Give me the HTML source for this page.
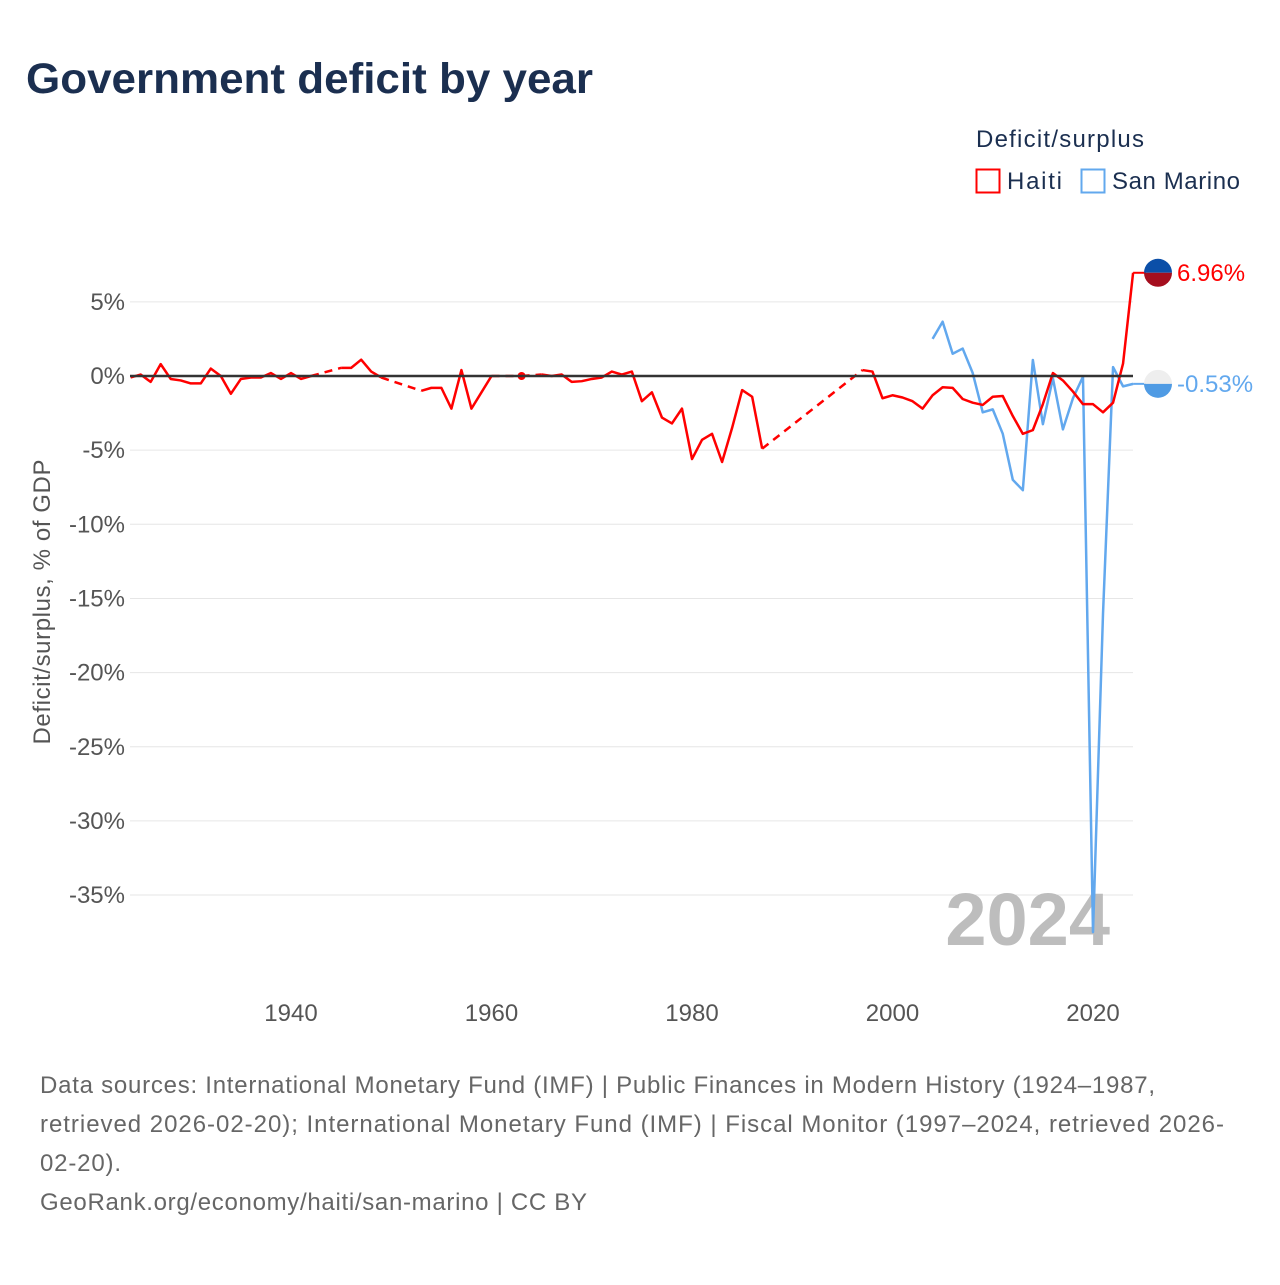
<!DOCTYPE html>
<html><head><meta charset="utf-8"><style>
body{margin:0;background:#fff;font-family:"Liberation Sans",sans-serif}
</style></head><body>
<svg id="chart" width="1280" height="1280" xmlns="http://www.w3.org/2000/svg">
<text x="26" y="93" font-size="43" font-weight="bold" fill="#1b2f50" textLength="567" lengthAdjust="spacingAndGlyphs">Government deficit by year</text>
<g>
<text x="976" y="147" font-size="24" fill="#1b2f50" textLength="168">Deficit/surplus</text>
<rect x="976.5" y="169.5" width="23" height="23" fill="none" stroke="#ff0000" stroke-width="2"/>
<text x="1007" y="189" font-size="24" fill="#1b2f50" textLength="55">Haiti</text>
<rect x="1081.5" y="169.5" width="23" height="23" fill="none" stroke="#62a8ee" stroke-width="2"/>
<text x="1112" y="189" font-size="24" fill="#1b2f50" textLength="128">San Marino</text>
</g>
<g id="grid"></g>
<text x="1110" y="945" font-size="74" font-weight="bold" fill="#bdbdbd" text-anchor="end">2024</text>
<g id="series"></g>
<text transform="translate(50,602) rotate(-90)" font-size="24" fill="#555" text-anchor="middle" textLength="285">Deficit/surplus, % of GDP</text>
<g font-size="24" fill="#666">
<text x="40" y="1093" textLength="1115">Data sources: International Monetary Fund (IMF) | Public Finances in Modern History (1924–1987,</text>
<text x="40" y="1132" textLength="1184">retrieved 2026-02-20); International Monetary Fund (IMF) | Fiscal Monitor (1997–2024, retrieved 2026-</text>
<text x="40" y="1171" textLength="81">02-20).</text>
<text x="40" y="1210" textLength="547">GeoRank.org/economy/haiti/san-marino | CC BY</text>
</g>
</svg>
<script>
const yTicks=[5,0,-5,-10,-15,-20,-25,-30,-35];
const xTicks=[1940,1960,1980,2000,2020];
const haitiStart=1924;
const haitiValues=[-0.1,0.1,-0.4,0.8,-0.2,-0.3,-0.5,-0.5,0.5,0,-1.2,-0.2,-0.1,-0.1,0.2,-0.2,0.2,-0.2,0,null,null,0.55,0.55,1.1,0.3,-0.1,null,null,null,-1.0,-0.8,-0.8,-2.2,0.4,-2.2,-1.1,0,null,null,0,null,0.1,0,0.1,-0.4,-0.35,-0.2,-0.1,0.3,0.1,0.3,-1.7,-1.1,-2.8,-3.2,-2.2,-5.6,-4.3,-3.9,-5.8,-3.5,-0.95,-1.4,-4.9,null,null,null,null,null,null,null,null,null,0.4,0.3,-1.5,-1.3,-1.45,-1.7,-2.2,-1.3,-0.76,-0.8,-1.55,-1.8,-1.95,-1.4,-1.35,-2.7,-3.9,-3.65,-1.9,0.2,-0.3,-1.05,-1.9,-1.9,-2.45,-1.8,0.85,6.96];
const smStart=2004;
const smValues=[2.5,3.66,1.5,1.85,0.2,-2.45,-2.25,-3.9,-7.0,-7.7,1.08,-3.25,-0.15,-3.6,-1.5,-0.05,-37.5,-16,0.6,-0.7,-0.53];
const NS="http://www.w3.org/2000/svg";
const X=y=>291+(y-1940)*10.025;
const Y=v=>376-v*14.83;
function mk(tag,attrs,parent){const e=document.createElementNS(NS,tag);for(const k in attrs)e.setAttribute(k,attrs[k]);parent.appendChild(e);return e;}
const grid=document.getElementById('grid');
yTicks.forEach(t=>{
 if(t!==0){const l=mk('line',{x1:130,x2:1133,y1:Y(t),y2:Y(t),stroke:'#e6e6e6','stroke-width':1},grid);
 
 }
 const tx=mk('text',{x:125,y:Y(t)+8,'font-size':24,fill:'#555','text-anchor':'end'},grid);tx.textContent=t+'%';
 
 
});
xTicks.forEach(t=>{const tx=mk('text',{x:X(t),y:1021,'font-size':24,fill:'#555','text-anchor':'middle'},grid);tx.textContent=t;
 
 });
const S=document.getElementById('series');
function draw(start,vals,color,name){
 const g=mk('g',{},S);
 
 
 let runs=[],cur=[];
 vals.forEach((v,i)=>{if(v===null){if(cur.length)runs.push(cur);cur=[];}else cur.push([X(start+i),Y(v)]);});
 if(cur.length)runs.push(cur);
 runs.forEach((r,i)=>{
  if(r.length===1){const c=mk('circle',{cx:r[0][0],cy:r[0][1],r:4,fill:color},g);
   
   }
  else{const p=mk('path',{d:'M'+r.map(q=>q.join(',')).join('L'),fill:'none',stroke:color,'stroke-width':2.5,'stroke-linejoin':'round'},g);
   
   }
  if(i>0){const a=runs[i-1][runs[i-1].length-1],b=r[0];
   const d=mk('line',{x1:a[0],y1:a[1],x2:b[0],y2:b[1],stroke:color,'stroke-width':2.5,'stroke-dasharray':'8,6'},g);
   
   }
 });
}
draw(smStart,smValues,'#62a8ee','san-marino');
draw(haitiStart,haitiValues,'#ff0000','haiti');
const z=mk('line',{x1:130,x2:1133,y1:Y(0),y2:Y(0),stroke:'#333','stroke-width':2.5},S);


function endLabel(v,color,name,top,bottom){
 const y=Y(v);
 const g=mk('g',{},S);
 
 
 mk('line',{x1:X(2024),x2:1146,y1:y,y2:y,stroke:color,'stroke-width':2},g);
 mk('path',{d:`M1144,${y}a14,14 0 0 1 28,0z`,fill:top},g);
 mk('path',{d:`M1144,${y}a14,14 0 0 0 28,0z`,fill:bottom},g);
 const t=mk('text',{x:1177,y:y+8,'font-size':24,fill:color},g);t.textContent=v.toFixed(2)+'%';
}
endLabel(haitiValues[haitiValues.length-1],'#ff0000','haiti','#0b4fa8','#a50e1e');
endLabel(smValues[smValues.length-1],'#62a8ee','san-marino','#eeeeee','#4f9be4');
</script>
</body></html>
